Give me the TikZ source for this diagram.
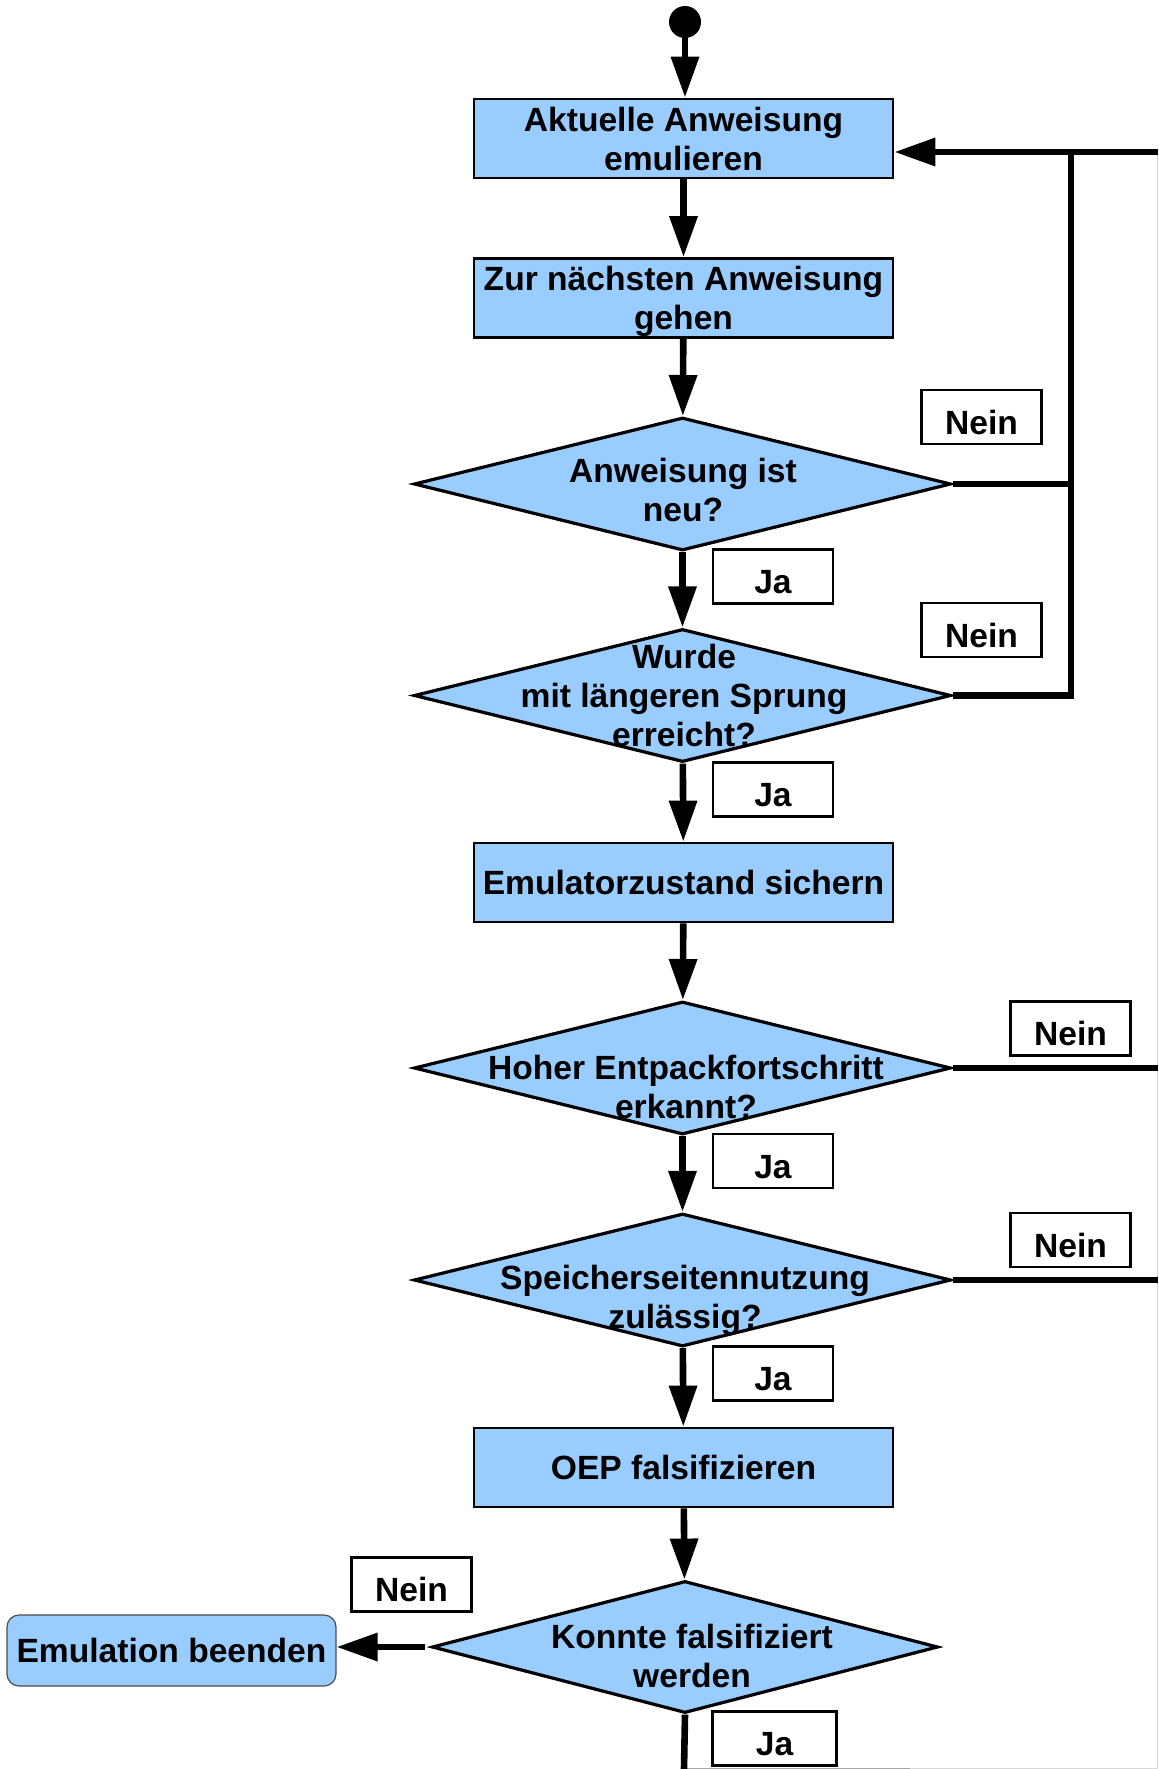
\documentclass[tikz,border=0pt]{standalone}
\usepackage{fontspec}
\setmainfont{Liberation Sans}
\usetikzlibrary{shapes.geometric,arrows.meta}
\definecolor{boxblue}{HTML}{99CCFF}
\tikzset{
  every node/.style={font=\fontsize{16.8pt}{19.5pt}\selectfont\bfseries},
  procbox/.style={draw=black, fill=boxblue, line width=1.4pt, minimum width=209.5pt,
    minimum height=39.5pt, inner sep=0pt, align=center},
  decision/.style={draw=black, fill=boxblue, line width=1.6pt, diamond,
    minimum width=268.5pt, minimum height=66.5pt, inner sep=0pt},
  dtext/.style={align=center, inner sep=0pt},
  answer/.style={draw=black, fill=white, line width=1.3pt, minimum width=60pt,
    minimum height=27pt, inner sep=0pt, text height=17pt, text depth=0pt},
  flow/.style={line width=3.3pt, -{Triangle[length=20.5pt,width=13.5pt]}},
  plainline/.style={line width=3.3pt},
}
\begin{document}
\begin{tikzpicture}[x=0.5pt,y=-0.5pt]
  % page
  \fill[white] (0,0) rectangle (1158,1769);
  \useasboundingbox (0,0) rectangle (1158,1769);
  \draw[gray!35, line width=0.6pt] (1157.4,155) -- (1157.4,1769);
  \draw[gray!70, line width=0.6pt] (686,1768.4) -- (910,1768.4);
  \draw[gray!30, line width=0.6pt] (910,1768.4) -- (1158,1768.4);

  % start
  \node[circle, fill=black, minimum size=16pt, inner sep=0pt] (start) at (685,22) {};

  % main column
  \node[procbox] (b1) at (683.5,138.5) {Aktuelle Anweisung\\emulieren};
  \node[procbox, text depth=0pt] (b2) at (683.5,298) {Zur nächsten Anweisung\\gehen};
  \node[decision] (d1) at (682.5,484) {};
  \node[dtext] (t1) at (683,490) {Anweisung ist\\neu?};
  \node[decision] (d2) at (682.5,695.5) {};
  \node[dtext] (t2) at (684,695) {Wurde\\mit längeren Sprung\\erreicht?};
  \node[procbox] (b3) at (683.5,882.5) {Emulatorzustand sichern};
  \node[decision] (d3) at (682.5,1068) {};
  \node[dtext] (t3) at (686,1087) {Hoher Entpackfortschritt\\erkannt?};
  \node[decision] (d4) at (682.5,1280) {};
  \node[dtext] (t4) at (685,1300.5) {Speicherseitennutzung\\zulässig?};
  \node[procbox] (b4) at (683.5,1467.5) {OEP falsifizieren};
  \node[decision, minimum width=253pt, minimum height=66pt] (d5) at (685,1647) {};
  \node[dtext] (t5) at (692,1656) {Konnte falsifiziert\\werden};
  \node[draw=black!70, fill=boxblue, rounded corners=6pt, line width=0.6pt,
    minimum width=164.5pt, minimum height=35.5pt, inner sep=0pt] (term) at (171.5,1650.5) {Emulation beenden};

  % answer labels
  \node[answer] (n1) at (981.5,417) {Nein};
  \node[answer] (j1) at (773,576.5) {Ja};
  \node[answer] (n2) at (981.5,630) {Nein};
  \node[answer] (j2) at (773,789.5) {Ja};
  \node[answer] (n3) at (1070.5,1028.5) {Nein};
  \node[answer] (j3) at (773,1161) {Ja};
  \node[answer] (n4) at (1070.5,1240) {Nein};
  \node[answer] (j4) at (773,1373.5) {Ja};
  \node[answer] (n5) at (411.5,1584.5) {Nein};
  \node[answer, minimum width=62pt] (j5) at (774.5,1738.5) {Ja};

  % loop-back bus on the right
  \coordinate (edgeTop) at (1158,152);
  \coordinate (busTop) at (1071,152);
  \coordinate (edgeBot) at (684,1769);

  % downward flow
  \draw[flow] (start) -- (start |- b1.north);
  \draw[flow] (b1) -- (b2);
  \draw[flow] (b2) -- (d1);
  \draw[flow] (d1) -- (d2);
  \draw[flow] (d2) -- (b3);
  \draw[flow] (b3) -- (d3);
  \draw[flow] (d3) -- (d4);
  \draw[flow] (d4) -- (b4);
  \draw[flow] (b4) -- (d5);
  \draw[plainline] (d5.south) -- (edgeBot);

  % "Nein" branches
  \draw[flow] (edgeTop) -- (edgeTop -| b1.east);
  \draw[plainline] (d1.east) -- (d1.east -| busTop);
  \draw[plainline] (d2.east) -| (busTop);
  \draw[plainline] (d3.east) -- (d3.east -| edgeTop);
  \draw[plainline] (d4.east) -- (d4.east -| edgeTop);
  \draw[flow, shorten <=2.5pt] (d5.west) -- (d5.west -| term.east);
\end{tikzpicture}
\end{document}
